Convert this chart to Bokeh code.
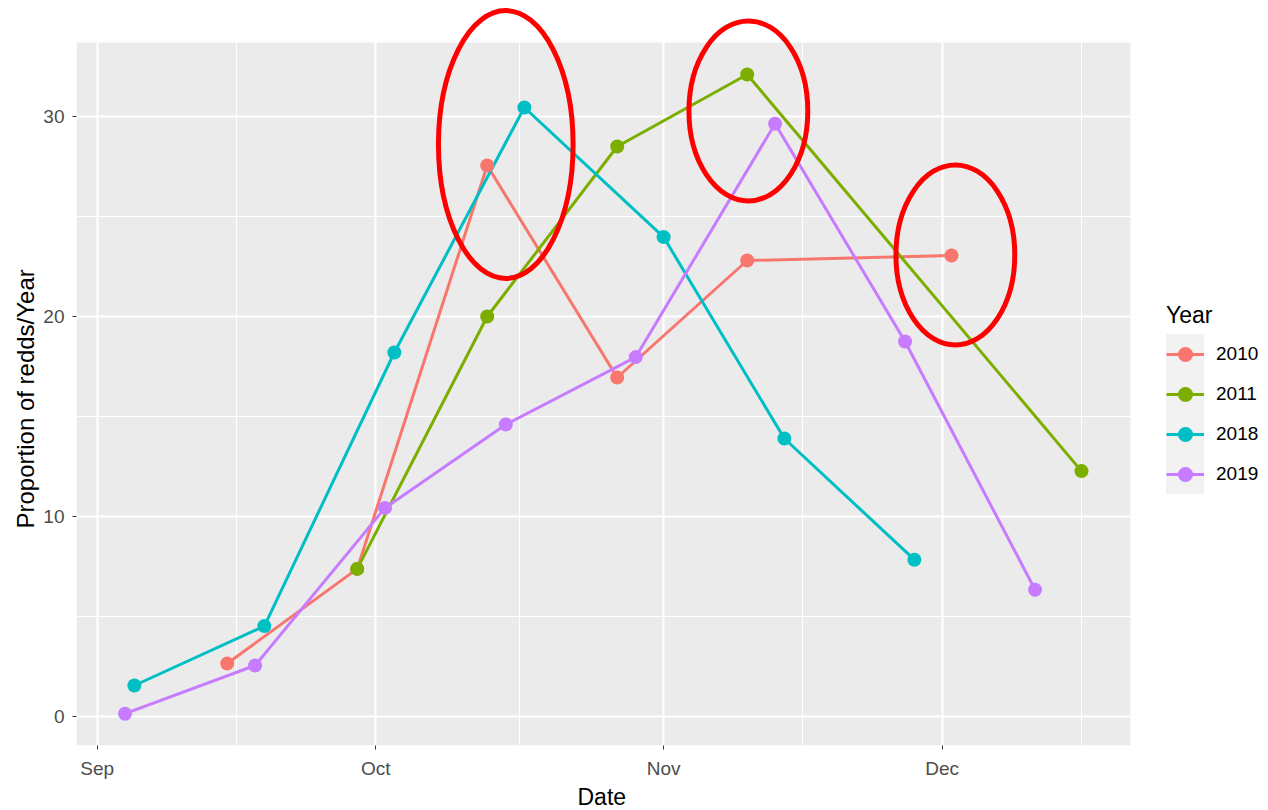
import numpy as np
import pandas as pd
from bokeh.plotting import figure
from bokeh.models import Range1d, FixedTicker, BoxAnnotation, Legend, LegendItem, Title
from bokeh.embed import file_html
from bokeh.resources import INLINE

# ---------------- data (dates placed on a common calendar year) ----------------
BASE_YEAR = "2019"
years = ["2010", "2011", "2018", "2019"]
colors = ["#F8766D", "#7CAE00", "#00BFC4", "#C77CFF"]

dates_2010 = ["09-15", "09-29", "10-13", "10-27", "11-10", "12-02"]
vals_2010 = [2.65, 7.38, 27.55, 16.95, 22.8, 23.05]

dates_2011 = ["09-29", "10-13", "10-27", "11-10", "12-16"]
vals_2011 = [7.38, 20.0, 28.5, 32.1, 12.27]

dates_2018 = ["09-05", "09-19", "10-03", "10-17", "11-01", "11-14", "11-28"]
vals_2018 = [1.55, 4.52, 18.2, 30.45, 23.97, 13.9, 7.84]

dates_2019 = ["09-04", "09-18", "10-02", "10-15", "10-29", "11-13", "11-27", "12-11"]
vals_2019 = [0.14, 2.55, 10.43, 14.6, 17.97, 29.64, 18.75, 6.34]

# red highlight ellipses (annotation)
ellipse_dates = ["10-15 00:00", "11-10 03:00", "12-02 10:00"]
ellipse_y = [28.6, 30.28, 23.08]
ellipse_w_days = [14.5, 12.8, 12.8]
ellipse_h = [13.4, 9.0, 9.0]

x_tick_dates = ["09-01", "10-01", "11-01", "12-01"]
x_tick_labels = ["Sep", "Oct", "Nov", "Dec"]
x_minor_dates = ["09-16", "10-16 12:00", "11-16", "12-16"]
y_ticks = [0, 10, 20, 30]
y_minor = [-5, 5, 15, 25, 35]

x_title = "Date"
y_title = "Proportion of redds/Year"
legend_title = "Year"

DAY = 86400000


def ms(s):
    return int(pd.Timestamp(f"{BASE_YEAR}-{s}").value // 10**6)


series_dates = [dates_2010, dates_2011, dates_2018, dates_2019]
series_vals = [vals_2010, vals_2011, vals_2018, vals_2019]

origin = ms("09-01")
panel_right = origin + 111.27 * DAY          # right edge of the grey panel
x_range = Range1d(origin - 2.23 * DAY, origin + 126.14 * DAY)  # frame spans to the legend
y_range = Range1d(-1.45, 35.8)

FONT = "Liberation Sans"

p = figure(width=1268, height=810, x_axis_type="datetime",
           x_range=x_range, y_range=y_range,
           output_backend="svg", toolbar_location=None,
           min_border_left=76, min_border_right=0,
           min_border_top=0, min_border_bottom=65,
           background_fill_color="white", border_fill_color="white",
           outline_line_color=None)

# grey panel
panel = BoxAnnotation(top=33.7, right=panel_right, fill_color="#EBEBEB", fill_alpha=1.0,
                      line_color=None, level="image")
p.add_layout(panel)

# ticks / grid
p.xaxis.ticker = FixedTicker(ticks=[ms(d) for d in x_tick_dates],
                             minor_ticks=[ms(d) for d in x_minor_dates])
p.xaxis.major_label_overrides = {ms(d): lab for d, lab in zip(x_tick_dates, x_tick_labels)}
p.yaxis.ticker = FixedTicker(ticks=y_ticks, minor_ticks=y_minor)

for g in (p.xgrid, p.ygrid):
    g.grid_line_color = "white"
    g.grid_line_width = 2
    g.minor_grid_line_color = "white"
    g.minor_grid_line_width = 1

for ax in (p.xaxis, p.yaxis):
    ax.axis_line_color = None
    ax.major_tick_line_color = "#333333"
    ax.major_tick_line_width = 1
    ax.major_tick_out = 4
    ax.major_tick_in = 0
    ax.minor_tick_out = 0
    ax.minor_tick_in = 0
    ax.major_label_text_font = FONT
    ax.major_label_text_font_size = "19px"
    ax.major_label_text_color = "#4D4D4D"

p.xaxis.major_label_standoff = 8
p.yaxis.major_label_standoff = 8

x_t = Title(text=x_title, align="left", offset=501,
            text_font=FONT, text_font_size="23px",
            text_font_style="normal", text_color="black")
y_t = Title(text=y_title, align="left", offset=217,
            text_font=FONT, text_font_size="24px",
            text_font_style="normal", text_color="black")
for t, so in ((x_t, 1), (y_t, 3)):
    try:
        t.standoff = so
    except Exception:
        pass
p.add_layout(x_t, "below")
p.add_layout(y_t, "left")

# lines, then points
line_rs, pt_rs = [], []
for d, v, c in zip(series_dates, series_vals, colors):
    xs = [ms(s) for s in d]
    line_rs.append(p.line(xs, v, line_color=c, line_width=3))
for d, v, c in zip(series_dates, series_vals, colors):
    xs = [ms(s) for s in d]
    pt_rs.append(p.scatter(xs, v, size=14, fill_color=c, line_color=None))

# highlight ellipses
p.ellipse(x=[ms(s) for s in ellipse_dates], y=ellipse_y,
          width=[w * DAY for w in ellipse_w_days], height=ellipse_h,
          fill_color=None, line_color="#FF0000", line_width=5)

# legend key background (a rect renderer with no drawable point)
key_bg = p.rect(x=np.array([np.nan]), y=np.array([np.nan]), width=1, height=1,
                fill_color="#F2F2F2", line_color="#F2F2F2", line_width=10,
                line_join="miter")
items = [LegendItem(label=y, renderers=[key_bg, lr, pr])
         for y, lr, pr in zip(years, line_rs, pt_rs)]
legend = Legend(items=items, location=(1090, 251), title=legend_title,
                title_text_font=FONT, title_text_font_size="23px",
                title_text_font_style="normal", title_text_color="black",
                title_standoff=5,
                label_text_font=FONT, label_text_font_size="19px",
                label_text_color="black", label_standoff=12,
                glyph_width=38, glyph_height=40, label_height=40,
                spacing=0, padding=0, margin=0,
                border_line_color=None, background_fill_alpha=0)
p.add_layout(legend, "center")

open("out.html", "w").write(file_html(p, INLINE))
